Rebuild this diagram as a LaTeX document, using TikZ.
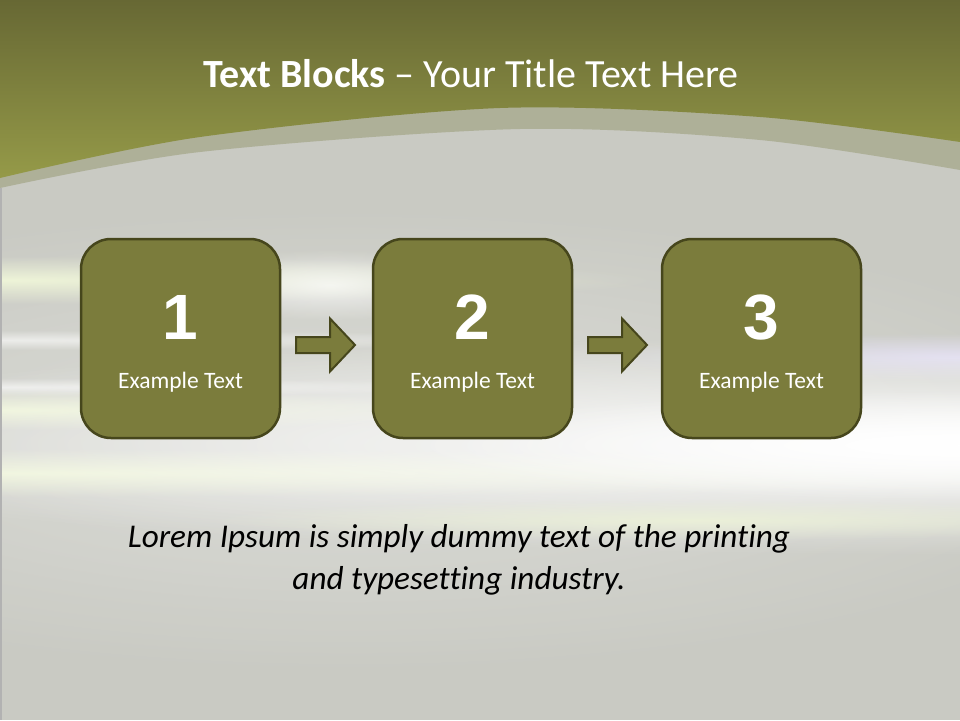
\documentclass[tikz,border=0pt]{standalone}
\usepackage{fontspec}
\setmainfont[Ligatures=NoCommon]{Carlito}
\newfontfamily\numfont{Liberation Sans}
\usetikzlibrary{calc,fadings}
\definecolor{topgreen}{RGB}{103,104,52}
\definecolor{midgreen}{RGB}{149,154,72}
\definecolor{bandc}{RGB}{174,176,152}
\definecolor{bgray}{RGB}{201,202,195}
\definecolor{boxfill}{RGB}{123,124,60}
\definecolor{boxline}{RGB}{70,70,28}
\definecolor{paleg}{RGB}{238,244,216}
\definecolor{lav}{RGB}{222,218,238}
\tikzfading[name=glow, inner color=transparent!0, outer color=transparent!100]
\begin{document}
\begin{tikzpicture}[x=1pt,y=-1pt,
  blockbox/.style={draw=boxline, fill=boxfill, line width=2.5pt, rounded corners=30pt, minimum width=199pt, minimum height=199pt, inner sep=0pt},
  numtext/.style={text=white, font=\numfont\bfseries\fontsize{64}{64}\selectfont, inner sep=0pt},
  labtext/.style={text=white, font=\fontsize{23.5}{23.5}\selectfont, inner sep=0pt},
  blockarrow/.style={draw=boxline, fill=boxfill, line width=2pt, line join=miter},
  streak/.style={path fading=glow}
]
\useasboundingbox (0,0) rectangle (960,720);
\begin{scope}
\clip (0,0) rectangle (960,720);
% background
\fill[bgray] (0,0) rectangle (960,720);
% streaks (soft glows)
\fill[streak, white, opacity=0.8] (-500,200) rectangle (1200,680);
\fill[bgray, opacity=0.55] (0,0) rectangle (960,720);
\fill[streak, paleg, opacity=1] (-660,256) rectangle (660,304);
\fill[streak, white, opacity=0.6] (-600,330) rectangle (600,350);
\fill[streak, white, opacity=0.6] (-520,378) rectangle (520,396);
\fill[streak, paleg, opacity=1] (-500,390) rectangle (500,430);
\fill[streak, paleg, opacity=1] (-1240,449) rectangle (1240,497);
\fill[streak, white, opacity=0.7] (180,250) rectangle (480,320);
\fill[streak, lav, opacity=1] (600,333) rectangle (1320,381);
\fill[streak, white, opacity=1] (-340,335) rectangle (2260,555);
\fill[streak, white, opacity=1] (400,390) rectangle (1520,500);
\fill[streak, paleg, opacity=0.8] (200,500) rectangle (1200,540);
% header
\fill[bandc] (0,0) -- (0,188) -- plot[smooth] coordinates {(0,188) (200,152) (520,129) (760,140) (960,170)} -- (960,0) -- cycle;
\shade[top color=topgreen, bottom color=midgreen] (0,0) -- (0,178) -- plot[smooth] coordinates {(0,178) (200,137) (500,108) (760,117) (960,142)} -- (960,0) -- cycle;
\fill[black!30] (0,188) rectangle (1.5,720);
\end{scope}
% title
\node[anchor=base, text=white, font=\fontsize{40}{40}\selectfont, inner sep=0pt] (title) at (471,87) {\textbf{Text Blocks} – Your Title Text Here};
% boxes
\node[blockbox] (b1) at (180.5,338.5) {};
\node[blockbox] (b2) at (472.5,338.5) {};
\node[blockbox] (b3) at (761.5,338.5) {};
\foreach \b/\n in {b1/1,b2/2,b3/3}{
  \node[numtext, anchor=base] (\b num) at ($(\b.center)+(0,0.5)$) {\n};
  \node[labtext, anchor=base] (\b lab) at ($(\b.center)+(0,49.5)$) {Example Text};
}
% arrows
\draw[blockarrow] ($(b1.east)+(14.75,6.5)$) ++(0,-8) -- ++(34,0) -- ++(0,-18.5) -- ++(25,26.5) -- ++(-25,26.5) -- ++(0,-18.5) -- ++(-34,0) -- cycle;
\draw[blockarrow] ($(b2.east)+(14.75,6.5)$) ++(0,-8) -- ++(34,0) -- ++(0,-18.5) -- ++(25,26.5) -- ++(-25,26.5) -- ++(0,-18.5) -- ++(-34,0) -- cycle;
% body text
\node[anchor=base, align=center, font=\itshape\fontsize{33.2}{42}\selectfont, inner sep=0pt] (body) at (459,589) {Lorem Ipsum is simply dummy text of the printing\\and typesetting industry.};
\end{tikzpicture}
\end{document}
